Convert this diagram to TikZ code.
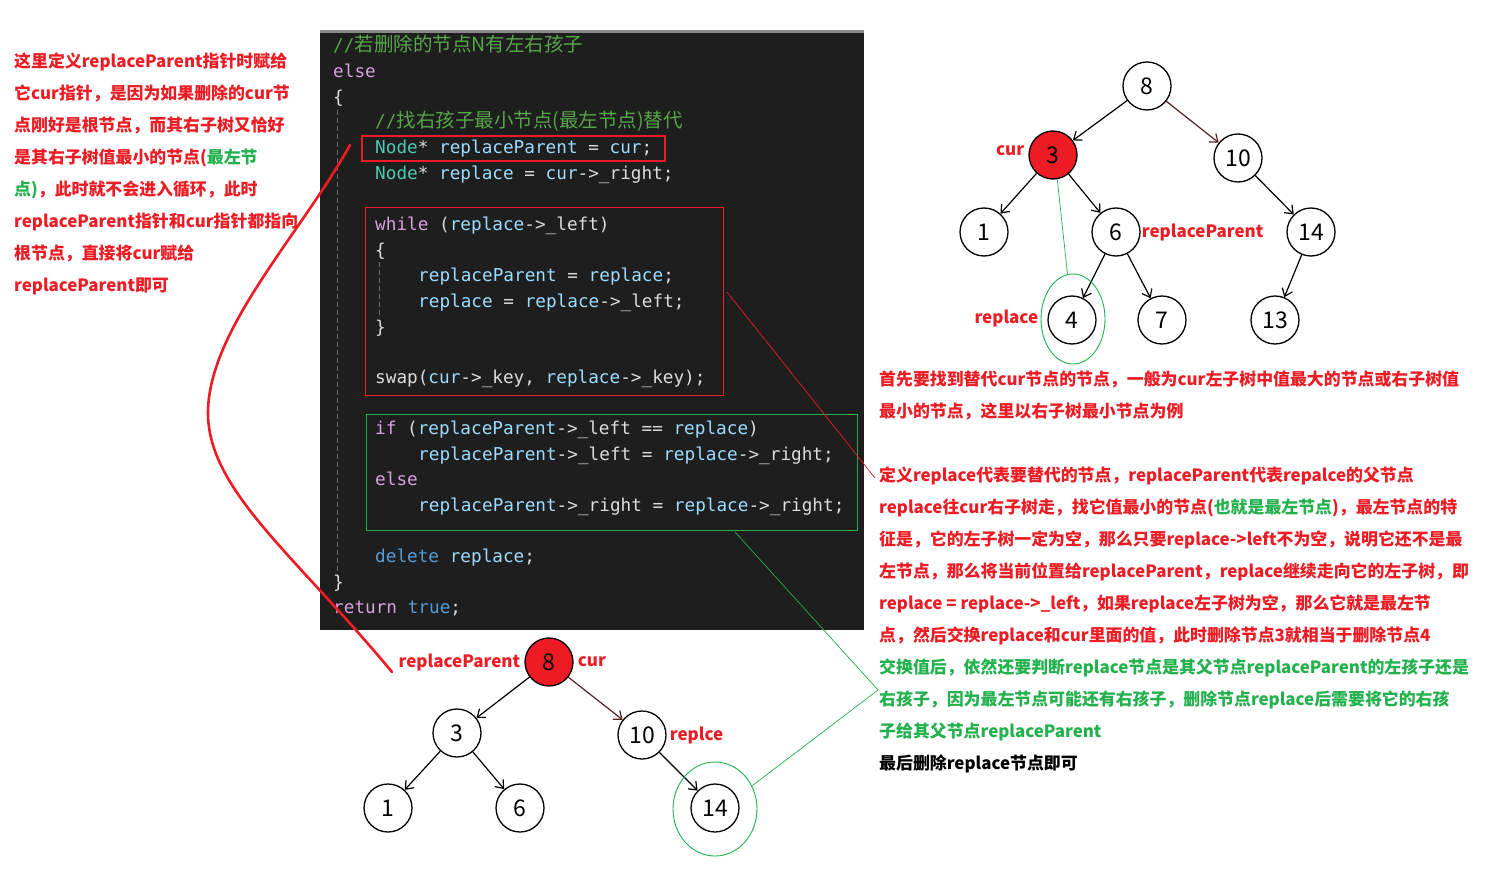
\documentclass[tikz,border=0pt]{standalone}
\usepackage{fontspec}
\usetikzlibrary{arrows.meta,positioning,shapes.geometric}
\newfontfamily\cjk{Noto Sans CJK SC}
\newfontfamily\codefont{DejaVu Sans Mono}
\frenchspacing
\definecolor{panelbg}{HTML}{1E1E1E}
\definecolor{panelbar}{HTML}{8A8A8A}
\definecolor{guidegray}{HTML}{6A6A6A}
\definecolor{codeplain}{HTML}{DCDCDC}
\definecolor{codekw}{HTML}{D8A0DF}
\definecolor{codetype}{HTML}{4EC9B0}
\definecolor{codevar}{HTML}{9CDCFE}
\definecolor{codeblue}{HTML}{569CD6}
\definecolor{codecmt}{HTML}{57A64A}
\definecolor{notered}{HTML}{ED1C24}
\definecolor{notegreen}{HTML}{22B14C}
\definecolor{edgered}{HTML}{5A1E1E}
\newcommand{\ckw}[1]{\textcolor{codekw}{#1}}
\newcommand{\cty}[1]{\textcolor{codetype}{#1}}
\newcommand{\cvar}[1]{\textcolor{codevar}{#1}}
\newcommand{\cblue}[1]{\textcolor{codeblue}{#1}}
\newcommand{\ccmt}[1]{\textcolor{codecmt}{//{\cjk\fontsize{19.5}{20}\selectfont #1}}}
\newcommand{\grn}[1]{\textcolor{notegreen}{#1}}
\tikzset{
  codeline/.style={anchor=base west, inner sep=0pt, text=codeplain,
                   font=\codefont\fontsize{17.7}{20}\selectfont},
  note/.style={anchor=base west, inner sep=0pt, text=notered,
               font=\cjk\bfseries\fontsize{16.9}{20}\selectfont},
  tag/.style={inner sep=1pt, text=notered,
              font=\cjk\bfseries\fontsize{17}{20}\selectfont},
  treenode/.style={circle, draw, line width=1.3pt, minimum size=48pt,
                   inner sep=0pt, font=\cjk\fontsize{23}{24}\selectfont},
  curnode/.style={treenode, fill=notered},
  link/.style={-{Straight Barb[length=7pt,width=11pt]}, line width=1.2pt},
  hlbox/.style={draw=notered, line width=2.6pt, inner sep=0pt},
  loopbox/.style={draw=notered, line width=0.9pt, inner sep=0pt},
  ifbox/.style={draw=notegreen, line width=0.9pt, inner sep=0pt},
  ring/.style={ellipse, draw=notegreen, line width=0.9pt, inner sep=0pt},
  pointer/.style={notered, line width=0.7pt},
  greenpointer/.style={notegreen, line width=0.7pt},
  bigpointer/.style={notered, line width=2.6pt, line cap=round}
}

\begin{document}
\begin{tikzpicture}[x=1pt, y=-1pt]
  \useasboundingbox[fill=white] (0,0) rectangle (1498,869);

  % code panel
  \fill[panelbg] (320,30) rectangle (864,630);
  \fill[panelbar] (320,30) rectangle (864,33);
  \draw[guidegray, line width=1pt, dash pattern=on 5pt off 3pt] (337,110) -- (337,575);
  \draw[guidegray, line width=1pt, dash pattern=on 5pt off 3pt] (379,262) -- (379,318);

  \node[codeline] (c1) at (333,52) {\ccmt{若删除的节点N有左右孩子}};
  \node[codeline] (c2) at (333,78) {\ckw{else}};
  \node[codeline] (c3) at (333,104) {\{};
  \node[codeline] (c4) at (375,128) {\ccmt{找右孩子最小节点(最左节点)替代}};
  \node[codeline] (c5) at (375,154) {\cty{Node}* \cvar{replaceParent} = \cvar{cur};};
  \node[codeline] (c6) at (375,179) {\cty{Node}* \cvar{replace} = \cvar{cur}->\_right;};
  \node[codeline] (c7) at (375,230) {\ckw{while} (\cvar{replace}->\_left)};
  \node[codeline] (c8) at (375,256) {\{};
  \node[codeline] (c9) at (418,281) {\cvar{replaceParent} = \cvar{replace};};
  \node[codeline] (c10) at (418,307) {\cvar{replace} = \cvar{replace}->\_left;};
  \node[codeline] (c11) at (375,333) {\}};
  \node[codeline] (c12) at (375,383) {swap(\cvar{cur}->\_key, \cvar{replace}->\_key);};
  \node[codeline] (c13) at (375,434) {\ckw{if} (\cvar{replaceParent}->\_left == \cvar{replace})};
  \node[codeline] (c14) at (418,460) {\cvar{replaceParent}->\_left = \cvar{replace}->\_right;};
  \node[codeline] (c15) at (375,485) {\ckw{else}};
  \node[codeline] (c16) at (418,511) {\cvar{replaceParent}->\_right = \cvar{replace}->\_right;};
  \node[codeline] (c17) at (375,562) {\cblue{delete} \cvar{replace};};
  \node[codeline] (c18) at (333,588) {\}};
  \node[codeline] (c19) at (333,613) {\ckw{return} \cblue{true};};

  % marked parts of the code
  \node[hlbox, minimum width=303pt, minimum height=25pt] (hl) at (513.5,148.5) {};
  \node[loopbox, minimum width=358pt, minimum height=188pt] (loop) at (544,301) {};
  \node[ifbox, minimum width=491pt, minimum height=116pt] (ifpart) at (611.5,472) {};

  % left note
  \node[note] (l1) at (14,67.5) {这里定义replaceParent指针时赋给};
  \node[note] (l2) at (14,99.5) {它cur指针，是因为如果删除的cur节};
  \node[note] (l3) at (14,131.5) {点刚好是根节点，而其右子树又恰好};
  \node[note] (l4) at (14,163.5) {是其右子树值最小的节点(\grn{最左节}};
  \node[note] (l5) at (14,195.5) {\grn{点)}，此时就不会进入循环，此时};
  \node[note] (l6) at (14,227.5) {replaceParent指针和cur指针都指向};
  \node[note] (l7) at (14,259.5) {根节点，直接将cur赋给};
  \node[note] (l8) at (14,291.5) {replaceParent即可};

  % right notes
  \node[note] (r1) at (879,385.5) {首先要找到替代cur节点的节点，一般为cur左子树中值最大的节点或右子树值};
  \node[note] (r2) at (879,417.5) {最小的节点，这里以右子树最小节点为例};
  \node[note] (r3) at (879,481.5) {定义replace代表要替代的节点，replaceParent代表repalce的父节点};
  \node[note] (r4) at (879,513.5) {replace往cur右子树走，找它值最小的节点(\grn{也就是最左节点})，最左节点的特};
  \node[note] (r5) at (879,545.5) {征是，它的左子树一定为空，那么只要replace->left不为空，说明它还不是最};
  \node[note] (r6) at (879,577.5) {左节点，那么将当前位置给replaceParent，replace继续走向它的左子树，即};
  \node[note] (r7) at (879,609.5) {replace = replace->\_left，如果replace左子树为空，那么它就是最左节};
  \node[note] (r8) at (879,641.5) {点，然后交换replace和cur里面的值，此时删除节点3就相当于删除节点4};
  \node[note, text=notegreen] (r9) at (879,673.5) {交换值后，依然还要判断replace节点是其父节点replaceParent的左孩子还是};
  \node[note, text=notegreen] (r10) at (879,705.5) {右孩子，因为最左节点可能还有右孩子，删除节点replace后需要将它的右孩};
  \node[note, text=notegreen] (r11) at (879,737.5) {子给其父节点replaceParent};
  \node[note, text=black] (r12) at (879,769.5) {最后删除replace节点即可};

  % tree before swap
  \node[treenode] (t8) at (1147,86) {8};
  \node[curnode] (t3) at (1053,155) {3};
  \node[treenode] (t10) at (1238,158) {10};
  \node[treenode] (t1) at (984,232) {1};
  \node[treenode] (t6) at (1116,232) {6};
  \node[treenode] (t14) at (1311,232) {14};
  \node[treenode] (t4) at (1072,320) {4};
  \node[treenode] (t7) at (1162,320) {7};
  \node[treenode] (t13) at (1275,320) {13};
  \draw[link] (t8) -- (t3);
  \draw[link, edgered] (t8) -- (t10);
  \draw[link] (t3) -- (t1);
  \draw[link] (t3) -- (t6);
  \draw[link] (t10) -- (t14);
  \draw[link] (t6) -- (t4);
  \draw[link] (t6) -- (t7);
  \draw[link] (t14) -- (t13);
  \node[tag, left=3pt of t3, yshift=4pt] (curtag) {cur};
  \node[tag, right=0pt of t6] (rptag) {replaceParent};
  \node[tag, left=8pt of t4, yshift=2pt] (rtag) {replace};
  \node[ring, minimum width=64pt, minimum height=90pt] (ring4) at (1073,319) {};
  \draw[greenpointer] (t3.-80) -- (ring4.97);

  % tree when cur is the root
  \node[curnode] (b8) at (549,662) {8};
  \node[treenode] (b3) at (457,733) {3};
  \node[treenode] (b10) at (642,735) {10};
  \node[treenode] (b1) at (388,808) {1};
  \node[treenode] (b6) at (520,808) {6};
  \node[treenode] (b14) at (715,808) {14};
  \draw[link] (b8) -- (b3);
  \draw[link, edgered] (b8) -- (b10);
  \draw[link] (b3) -- (b1);
  \draw[link] (b3) -- (b6);
  \draw[link] (b10) -- (b14);
  \node[tag, left=3pt of b8] (bptag) {replaceParent};
  \node[tag, right=3pt of b8] (bcurtag) {cur};
  \node[tag, right=2pt of b10] (brtag) {replce};
  \node[ring, minimum width=84pt, minimum height=94pt] (ring14) at (715,809) {};

  % pointers from the notes
  \coordinate (bendA) at (350,145);
  \coordinate (bendM) at (208,413);
  \coordinate (bendB) at (392,672);
  \draw[bigpointer] (bendA) .. controls (300,235) and (208,330) .. (bendM)
    .. controls (208,490) and (295,555) .. (bendB);
  \coordinate (loopout) at (727,292);
  \coordinate (noteA) at (875,478);
  \draw[pointer] (loopout) -- (noteA);
  \coordinate (ifout) at (735,532);
  \coordinate (noteB) at (878,690);
  \draw[greenpointer] (ifout) -- (noteB) -- (ring14.32);
\end{tikzpicture}
\end{document}
